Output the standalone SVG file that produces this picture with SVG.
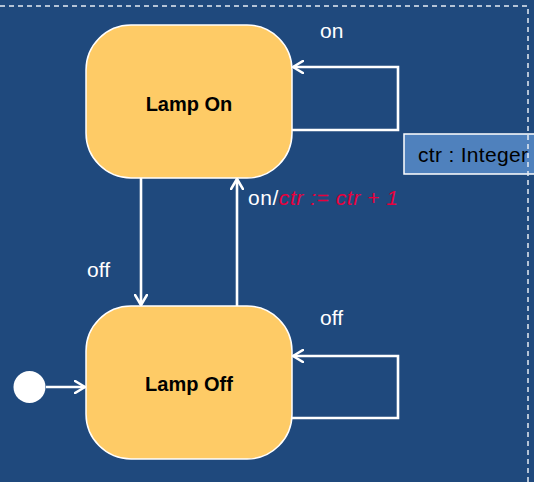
<svg xmlns="http://www.w3.org/2000/svg" width="534" height="482" viewBox="0 0 534 482">
  <defs>
    <marker id="arr" viewBox="0 0 12 14" refX="11" refY="7" markerWidth="12" markerHeight="14" markerUnits="userSpaceOnUse" orient="auto">
      <path d="M1,1 L11,7 L1,13" fill="none" stroke="#ffffff" stroke-width="2.6" stroke-linecap="round" stroke-linejoin="round"/>
    </marker>
  </defs>
  <style>
    .state { fill: #fecb66; stroke: #ffffff; stroke-width: 1.5; }
    .name { font-family: "Liberation Sans", Arial, sans-serif; font-weight: bold; font-size: 20px; fill: #000000; text-anchor: middle; }
    .lbl { font-family: "Liberation Sans", Arial, sans-serif; font-size: 21px; fill: #ffffff; }
    .dark { fill: #000000; }
    .act { fill: #e8003c; font-style: italic; }
    .conn { fill: none; stroke: #ffffff; stroke-width: 2.6; }
    .border { fill: none; stroke: #e6ecf4; stroke-width: 1.5; stroke-dasharray: 5 4; }
  </style>
  <rect x="0" y="0" width="534" height="482" fill="#1f497d"/>

  <g id="lampOn">
    <rect class="state" x="86" y="25" width="206" height="153" rx="45" ry="45"/>
    <text class="name" x="189" y="111">Lamp On</text>
  </g>

  <g id="lampOff">
    <rect class="state" x="86" y="306" width="206" height="153" rx="45" ry="45"/>
    <text class="name" x="189" y="391">Lamp Off</text>
  </g>

  <g id="initial">
    <circle cx="29.5" cy="387" r="16" fill="#ffffff"/>
  </g>

  <g id="attribute">
    <rect x="404" y="134" width="140" height="40" fill="#4f81bd" stroke="#ffffff" stroke-width="1.5"/>
    <text class="lbl dark" x="418" y="162" textLength="110" lengthAdjust="spacing">ctr : Integer</text>
  </g>

  <g id="connectors">
    <path class="conn" d="M292,130 L398,130 L398,67 L293,67" marker-end="url(#arr)"/>
    <path class="conn" d="M292,418 L398,418 L398,356 L293,356" marker-end="url(#arr)"/>
    <path class="conn" d="M141,178 L141,305" marker-end="url(#arr)"/>
    <path class="conn" d="M237,306 L237,179" marker-end="url(#arr)"/>
    <path class="conn" d="M46,387 L85,387" marker-end="url(#arr)"/>
  </g>

  <g id="labels">
    <text class="lbl" x="320" y="38">on</text>
    <text class="lbl" x="320" y="325">off</text>
    <text class="lbl" x="87" y="277">off</text>
    <text class="lbl" x="248" y="205" textLength="150" lengthAdjust="spacing">on/<tspan class="act">ctr := ctr + 1</tspan></text>
  </g>

  <path class="border" d="M0,6 L528,6 L528,482"/>
</svg>
